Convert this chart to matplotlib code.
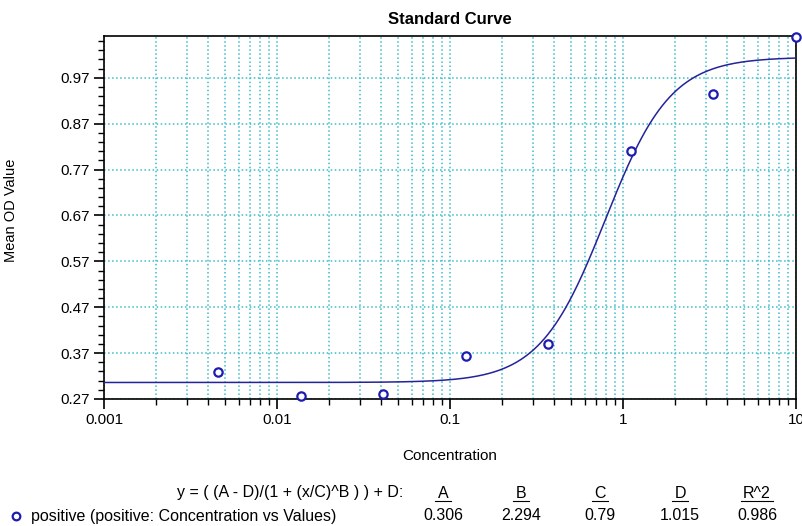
import numpy as np
import matplotlib.pyplot as plt
from matplotlib.ticker import FixedLocator, LogLocator, FuncFormatter
from matplotlib.lines import Line2D

plt.rcParams['font.family'] = ['Liberation Sans', 'DejaVu Sans']

# Measured points (3-fold dilution series)
concentration = [0.00457, 0.0137, 0.0412, 0.123, 0.370, 1.11, 3.33, 10.0]
mean_od = [0.329, 0.276, 0.281, 0.364, 0.390, 0.811, 0.934, 1.058]

# Fit parameters shown under the chart
param_names = ['A', 'B', 'C', 'D', 'R^2']
param_values = ['0.306', '2.294', '0.79', '1.015', '0.986']
A, B, C, D = 0.306, 2.294, 0.79, 1.015

y_ticks = [0.27, 0.37, 0.47, 0.57, 0.67, 0.77, 0.87, 0.97]
x_ticks = [0.001, 0.01, 0.1, 1, 10]

grid_color = '#3cbcc8'
line_color = '#23239a'
point_color = '#1c1cb0'

fig = plt.figure(figsize=(8.03, 5.26), dpi=100)
ax = fig.add_axes([104 / 803, 1 - 399 / 526, 692 / 803, 363 / 526])

# fitted 4PL curve
xs = np.logspace(-3, 1, 400)
ys = (A - D) / (1 + (xs / C) ** B) + D
ax.plot(xs, ys, color=line_color, lw=1.1, zorder=3)
ax.plot(concentration, mean_od, 'o', mfc='white', mec=point_color, mew=1.6,
        ms=6, clip_on=False, zorder=4)

ax.set_xscale('log')
ax.set_xlim(0.001, 10)
ax.set_ylim(0.27, 1.061)

ax.xaxis.set_major_locator(FixedLocator(x_ticks))
ax.xaxis.set_minor_locator(LogLocator(base=10, subs=np.arange(2, 10)))
ax.xaxis.set_major_formatter(FuncFormatter(lambda v, p: '%g' % v))
ax.yaxis.set_major_locator(FixedLocator(y_ticks))
ax.yaxis.set_minor_locator(FixedLocator(np.arange(0.27, 1.07, 0.02)))
ax.yaxis.set_major_formatter(FuncFormatter(lambda v, p: '%.2f' % v))

ax.grid(True, which='both', axis='x', color=grid_color, ls=':', lw=1.1)
ax.grid(True, which='major', axis='y', color=grid_color, ls=':', lw=1.1)
ax.set_axisbelow(True)

ax.tick_params(which='major', direction='out', length=7, width=1.2, labelsize=11, pad=3)
ax.tick_params(which='minor', direction='out', length=4, width=1.0)
for s in ax.spines.values():
    s.set_linewidth(1.2)

ax.set_title('Standard Curve', fontsize=12, fontweight='bold', pad=9)
ax.set_xlabel('Concentration', fontsize=11)
ax.set_ylabel('Mean OD Value', fontsize=10.5)
ax.xaxis.set_label_coords(0.5, -0.138)
ax.yaxis.set_label_coords(-0.124, 0.52)

# equation / parameter table below the chart
H = 526
fs = 11.5
fig.text(403 / 803, 1 - 493 / H, 'y = ( (A - D)/(1 + (x/C)^B ) ) + D:', ha='right', va='center', fontsize=fs)
col_x = [443, 521, 600, 680, 757]
for cx, name, val in zip(col_x, param_names, param_values):
    fig.text(cx / 803, 1 - 493 / H, name, ha='center', va='center', fontsize=fs)
    w = 4 + 4 * len(name)
    fig.add_artist(Line2D([(cx - w) / 803, (cx + w) / 803], [1 - 501 / H, 1 - 501 / H],
                          color='black', lw=0.8))
    fig.text(cx / 803, 1 - 516 / H, val, ha='center', va='center', fontsize=fs)

fig.add_artist(Line2D([16 / 803], [1 - 516 / H], marker='o', mfc='white', mec=point_color,
                      mew=1.6, ms=5.5, ls='none'))
fig.text(31 / 803, 1 - 516 / H, 'positive (positive: Concentration vs Values)', ha='left',
         va='center', fontsize=fs)

fig.savefig('out.png', dpi=100)
